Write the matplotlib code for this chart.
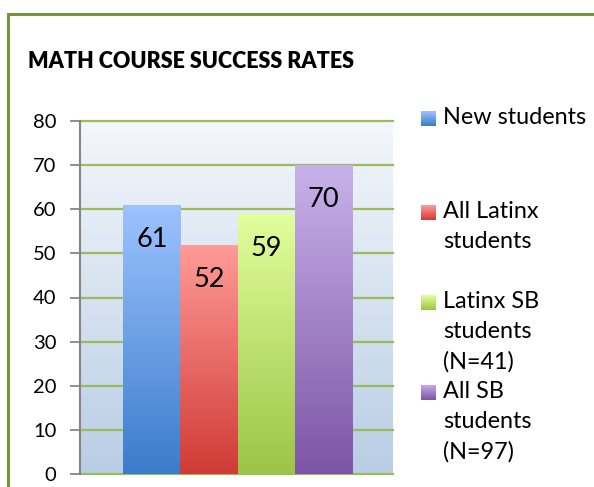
import numpy as np
import matplotlib
matplotlib.use("Agg")
import matplotlib.pyplot as plt
from matplotlib.patches import Rectangle
from matplotlib.colors import LinearSegmentedColormap

# ---- data ----
categories = ["New students", "All Latinx\nstudents", "Latinx SB\nstudents\n(N=41)", "All SB\nstudents\n(N=97)"]
values = [61, 52, 59, 70]
yticks = [0, 10, 20, 30, 40, 50, 60, 70, 80]
title = "MATH COURSE SUCCESS RATES"

# gradient colors (top, bottom)
grads = [("#9DC3FF", "#3B7CCB"),
         ("#FF9B98", "#D03B36"),
         ("#E1FF9C", "#9CC447"),
         ("#C8B2E9", "#7D55A6")]

plt.rcParams['font.family'] = ['Lato', 'DejaVu Sans']

W, H = 594, 487
fig = plt.figure(figsize=(W / 100, H / 100), dpi=100)

# outer green border (extends beyond right/bottom)
fig.patches.append(Rectangle((8 / W, -0.1), 1.2, 1 - 14 / H + 0.1, transform=fig.transFigure,
                             fill=False, edgecolor="#77933C", linewidth=2.2))

ax = fig.add_axes([80 / W, 1 - 474 / H, 313 / W, (474 - 121) / H])

# background gradient
bg = np.linspace(0, 1, 256).reshape(-1, 1)
bg_cmap = LinearSegmentedColormap.from_list("bg", ["#F4F7FB", "#B9CDE5"])
ax.imshow(bg, cmap=bg_cmap, aspect="auto", extent=[0, 1, 0, 1], transform=ax.transAxes,
          zorder=0, interpolation="bicubic")

x = np.arange(len(values))
bars = ax.bar(x, values, width=1.0, color="none", zorder=3)
for b, (ctop, cbot) in zip(bars, grads):
    cm = LinearSegmentedColormap.from_list("g", [cbot, ctop])
    grad = np.linspace(1, 0, 256).reshape(-1, 1)
    bx, by = b.get_x(), b.get_y()
    im = ax.imshow(grad, cmap=cm, aspect="auto", vmin=0, vmax=1,
                   extent=[bx, bx + b.get_width(), by, by + b.get_height()], zorder=2.5,
                   interpolation="bicubic")
    im.set_clip_path(b)

for b, v in zip(bars, values):
    ax.annotate(str(v), (b.get_x() + b.get_width() / 2, v), xytext=(0, -16),
                textcoords="offset points", ha="center", va="top", fontsize=19.5, color="black", zorder=5)

ax.set_xlim(-0.5 - 43 / 57, len(values) - 0.5 + 41 / 57)
ax.set_ylim(0, 80)
ax.set_yticks(yticks)
ax.set_xticks([])
ax.tick_params(axis="y", direction="out", length=7, width=1.3, color="#868686", pad=10, labelsize=14.5)
for s in ["top", "right", "bottom"]:
    ax.spines[s].set_visible(False)
ax.spines["left"].set_color("#868686")
ax.spines["left"].set_linewidth(1.5)
ax.spines["left"].set_zorder(6)
ax.yaxis.grid(True, color="#9BBB59", linewidth=1.6, zorder=1)
ax.set_axisbelow(True)
for gl in ax.get_ygridlines():
    gl.set_clip_on(False)

# title
fig.text(28 / W, 1 - 62 / H, title, fontsize=15.5, fontweight="heavy", ha="left", va="center")

# legend (manual)
leg_y = [118, 212, 302, 392]  # first-line centers in px
for lab, (ctop, cbot), yy in zip(categories, grads, leg_y):
    cm = LinearSegmentedColormap.from_list("g", [cbot, ctop])
    lax = fig.add_axes([421 / W, 1 - (yy + 8) / H, 15 / W, 15 / H])
    lax.imshow(np.linspace(1, 0, 64).reshape(-1, 1), cmap=cm, aspect="auto", vmin=0, vmax=1)
    lax.axis("off")
    fig.text(443 / W, 1 - (yy - 11) / H, lab, fontsize=16.8, ha="left", va="top", linespacing=1.52)

fig.savefig("out.png", dpi=100)
